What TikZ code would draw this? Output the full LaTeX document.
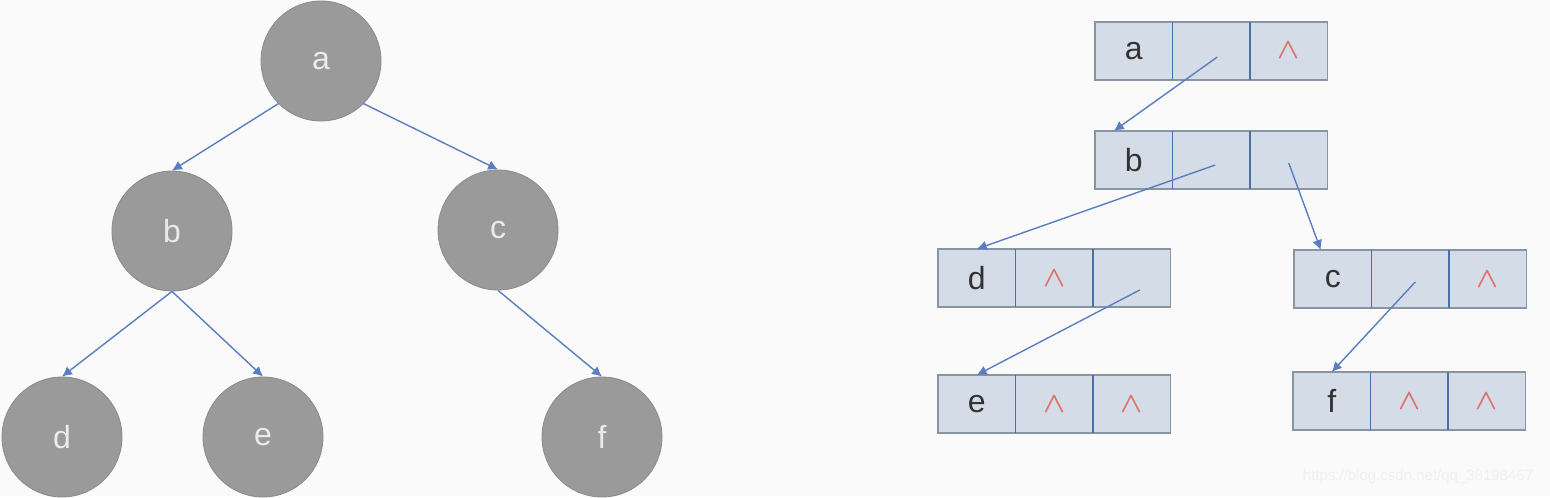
\documentclass[tikz,border=0pt]{standalone}
\usepackage{fontspec}
\setmainfont{Liberation Sans}
\usetikzlibrary{calc,positioning,arrows.meta}
\definecolor{nodegray}{HTML}{9A9A9A}
\definecolor{nodeline}{HTML}{8A8A8A}
\definecolor{celfill}{HTML}{D4DCE7}
\definecolor{celline}{HTML}{8A95A3}
\definecolor{divblue}{HTML}{4A70A8}
\definecolor{arrblue}{HTML}{5A7EC0}
\definecolor{nilred}{HTML}{E0706A}
\newcommand*{\nil}{{\color{nilred}\fontsize{14}{14}\selectfont\boldmath$\wedge$}}

\begin{document}
\begin{tikzpicture}[x=0.5pt,y=-0.5pt,
    tnode/.style={circle,draw=nodeline,fill=nodegray,minimum size=60pt,inner sep=0pt,
      text=white!92!black,font=\fontsize{16}{16}\selectfont},
    cell/.style={rectangle,draw=celline,fill=celfill,line width=0.8pt,minimum width=38.75pt,
      minimum height=29pt,inner sep=0pt,outer sep=0pt,text=black!80,font=\fontsize{16}{16}\selectfont},
    divider/.style={draw=divblue,line width=0.9pt},
    arr/.style={draw=arrblue,line width=0.7pt,-{Latex[length=5pt,width=5pt]}},
  ]
      % background
      \fill[white!98!black] (0,0) rectangle (1550,496);

      % binary tree
      \node[tnode] (a) at (321,61)  {a};
      \node[tnode] (b) at (172,231) {b};
      \node[tnode] (c) at (498,230) {c};
      \node[tnode] (d) at (62,437)  {d};
      \node[tnode] (e) at (263,437) {e};
      \node[tnode] (f) at (602,437) {f};

      % tree edges
      \draw[arr] (a.south west) -- (b.north);
      \draw[arr] (a.south east) -- (c.north);
      \draw[arr] (b.south) -- (d.north);
      \draw[arr] (b.south) -- (e.north);
      \draw[arr] (c.south) -- (f.north);

      % binary linked list rows
      \foreach \n/\x/\y/\d/\l/\r in {a/1095/51/a/{}/\nil, b/1095/160/b/{}/{},
          d/938/278/d/\nil/{}, c/1294/279/c/{}/\nil,
          e/938/404/e/\nil/\nil, f/1293/401/f/\nil/\nil}{
        \node[cell,anchor=west] (l\n1) at (\x,\y) {\d};
        \node[cell,right=0pt of l\n1] (l\n2) {\l};
        \node[cell,right=0pt of l\n2] (l\n3) {\r};
        \draw[divider] (l\n1.north east) -- (l\n1.south east);
        \draw[divider] (l\n2.north east) -- (l\n2.south east);
      }

      % list pointers
      \draw[arr] ($(la2.center)+(6,6)$) -- ($(lb1.north)+(-20,0)$);
      \draw[arr] ($(lb2.center)+(4,5)$) -- (ld1.north);
      \draw[arr] ($(lb3.center)+(0,3)$) -- ($(lc1.north)+(-12,0)$);
      \draw[arr] ($(ld3.center)+(8,12)$) -- (le1.north);
      \draw[arr] ($(lc2.center)+(5,3)$) -- (lf1.north);

      % watermark
      \node[text=black!6,font=\fontsize{7.5}{7.5}\selectfont] (wm) at (1418,477) {https://blog.csdn.net/qq\_38198467};
    \end{tikzpicture}
\end{document}
